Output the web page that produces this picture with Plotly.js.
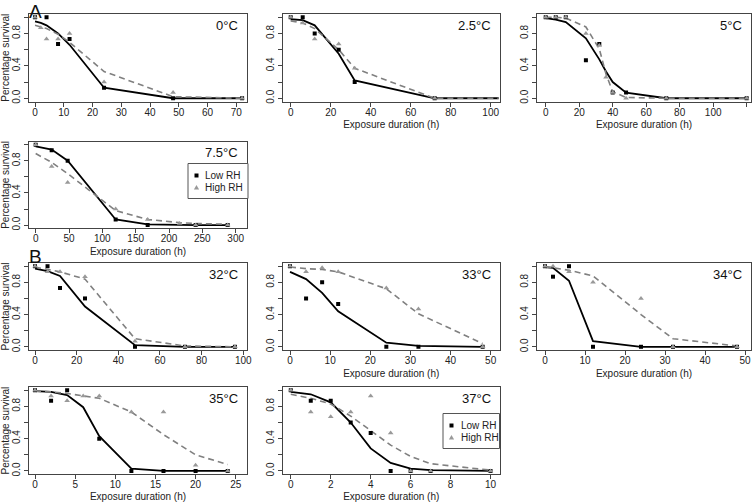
<!DOCTYPE html>
<html>
<head>
<meta charset="utf-8">
<script src="https://cdn.plot.ly/plotly-3.0.1.min.js"></script>
<style>html,body{margin:0;padding:0;background:#fff;}#chart{width:755px;height:502px;}</style>
</head>
<body>
<div id="chart"></div>
<script>
// ---------------- DATA ----------------
const panelLabels = ["0°C","2.5°C","5°C","7.5°C","32°C","33°C","34°C","35°C","37°C"];
const seriesNames = ["Low RH","High RH"];
const xTitle = "Exposure duration (h)";
const yTitle = "Percentage survival";
const yTickVals = [0,0.2,0.4,0.6,0.8,1.0];
const yTickText = ["0.0","","0.4","","0.8",""];

// 0°C
const t0Low = [0,4,8,12,24,48,72];
const obs0Low = [1.0,1.0,0.67,0.73,0.13,0.0,0.0];
const t0High = [0,2,4,8,12,24,48,72];
const obs0High = [1.0,0.87,0.73,0.73,0.8,0.2,0.07,0.0];
const t0Fit = [0,2,4,8,12,24,48,72];
const fit0Low = [0.95,0.93,0.9,0.8,0.66,0.13,0.0,0.0];
const fit0High = [0.9,0.88,0.86,0.79,0.69,0.33,0.02,0.0];

// 2.5°C
const t25Obs = [0,6,12,24,32,72];
const obs25Low = [1.0,1.0,0.8,0.6,0.2,0.0];
const obs25High = [1.0,0.93,0.73,0.67,0.37,0.0];
const t25Fit = [0,6,12,24,32,72,104];
const fit25Low = [0.975,0.965,0.9,0.55,0.22,0.0,0.0];
const fit25High = [0.955,0.93,0.86,0.6,0.37,0.0,0.0];

// 5°C
const t5Low = [0,6,12,24,32,40,48,72,120];
const obs5Low = [1.0,1.0,1.0,0.47,0.67,0.07,0.07,0.0,0.0];
const t5High = [0,6,12,24,32,36,40,48,72,120];
const obs5High = [1.0,1.0,1.0,0.8,0.65,0.26,0.07,0.0,0.0,0.0];
const t5Fit = [0,6,12,24,32,36,40,48,72,120];
const fit5Low = [0.99,0.97,0.94,0.74,0.48,0.33,0.2,0.07,0.0,0.0];
const fit5High = [1.0,1.0,0.99,0.88,0.61,0.3,0.08,0.01,0.0,0.0];

// 7.5°C
const t75Low = [0,24,48,120,168,240,288];
const obs75Low = [1.0,0.93,0.8,0.07,0.0,0.0,0.0];
const t75High = [0,24,48,120,168,216,240,288];
const obs75High = [1.0,0.73,0.53,0.2,0.07,0.02,0.0,0.0];
const t75Fit = [0,24,48,120,168,216,240,288];
const fit75Low = [0.98,0.94,0.8,0.07,0.01,0.0,0.0,0.0];
const fit75High = [0.89,0.78,0.64,0.18,0.07,0.03,0.02,0.01];

// 32°C
const t32Obs = [0,6,12,24,48,72,96];
const obs32Low = [1.0,1.0,0.73,0.6,0.0,0.0,0.0];
const obs32High = [1.0,0.93,0.93,0.87,0.07,0.0,0.0];
const fit32Low = [0.97,0.94,0.88,0.5,0.02,0.0,0.0];
const fit32High = [0.99,0.96,0.93,0.84,0.1,0.01,0.0];

// 33°C
const t33Obs = [0,4,8,12,24,32,48];
const obs33Low = [1.0,0.6,0.8,0.53,0.0,0.0,0.0];
const obs33High = [1.0,0.93,0.98,0.93,0.73,0.47,0.0];
const fit33Low = [0.93,0.84,0.67,0.44,0.05,0.01,0.0];
const fit33High = [0.99,0.97,0.96,0.93,0.72,0.41,0.04];

// 34°C
const t34Obs = [0,2,6,12,24,32,48];
const obs34Low = [1.0,0.87,1.0,0.0,0.0,0.0,0.0];
const obs34High = [1.0,1.0,0.93,0.8,0.6,0.0,0.0];
const fit34Low = [0.99,0.98,0.82,0.07,0.0,0.0,0.0];
const fit34High = [0.99,0.98,0.95,0.88,0.4,0.1,0.01];

// 35°C
const t35Low = [0,2,4,8,12,16,20,24];
const obs35Low = [1.0,0.87,1.0,0.4,0.0,0.0,0.0,0.0];
const t35High = [0,2,4,6,8,12,16,20,24];
const obs35High = [1.0,0.93,0.87,0.93,0.93,0.73,0.73,0.07,0.0];
const t35Fit = [0,2,4,6,8,12,16,20,24];
const fit35Low = [0.99,0.98,0.94,0.79,0.43,0.03,0.0,0.0,0.0];
const fit35High = [0.99,0.98,0.96,0.93,0.9,0.73,0.45,0.2,0.08];

// 37°C
const t37Obs = [0,1,2,3,4,5,6,7,10];
const obs37Low = [1.0,0.87,0.87,0.6,0.47,0.0,0.0,0.0,0.0];
const obs37High = [1.0,0.73,0.67,0.73,0.93,0.47,0.0,0.0,0.0];
const fit37Low = [0.98,0.95,0.85,0.6,0.28,0.1,0.03,0.01,0.0];
const fit37High = [0.95,0.9,0.83,0.68,0.5,0.32,0.18,0.09,0.01];

// ---------------- LAYOUT ----------------
const W = 755, H = 502;
const colX = [[29,247],[283,499.5],[537,751]];
const rowY = [[14,101.5],[141.5,228.3],[263,350],[387,474.2]];

const panels = [
  {row:0,col:0, xr:[-2.1,73.7],  dtick:10, tl:t0Low,  ol:obs0Low,  th:t0High,  oh:obs0High,  tf:t0Fit,  fl:fit0Low,  tfh:t0Fit,  fh:fit0High,  xt:false, yt:true},
  {row:0,col:1, xr:[-3.85,104.4],dtick:20, tl:t25Obs, ol:obs25Low, th:t25Obs, oh:obs25High, tf:t25Fit, fl:fit25Low, tfh:t25Fit, fh:fit25High, xt:true, yt:false},
  {row:0,col:2, xr:[-5.2,122.6], dtick:20, tl:t5Low,  ol:obs5Low,  th:t5High,  oh:obs5High,  tf:t5Fit,  fl:fit5Low,  tfh:t5Fit,  fh:fit5High,  xt:true, yt:false},
  {row:1,col:0, xr:[-10,317],    dtick:50, tl:t75Low, ol:obs75Low, th:t75High, oh:obs75High, tf:t75Fit, fl:fit75Low, tfh:t75Fit, fh:fit75High, xt:true, yt:true, legend:[188,163.5,248,198.5]},
  {row:2,col:0, xr:[-2.9,101.8], dtick:20, tl:t32Obs, ol:obs32Low, th:t32Obs, oh:obs32High, tf:t32Obs, fl:fit32Low, tfh:t32Obs, fh:fit32High, xt:false, yt:true},
  {row:2,col:1, xr:[-1.75,52.2], dtick:10, tl:t33Obs, ol:obs33Low, th:t33Obs, oh:obs33High, tf:t33Obs, fl:fit33Low, tfh:t33Obs, fh:fit33High, xt:true, yt:false},
  {row:2,col:2, xr:[-2,51.5],    dtick:10, tl:t34Obs, ol:obs34Low, th:t34Obs, oh:obs34High, tf:t34Obs, fl:fit34Low, tfh:t34Obs, fh:fit34High, xt:true, yt:false},
  {row:3,col:0, xr:[-0.75,26.4], dtick:5,  tl:t35Low, ol:obs35Low, th:t35High, oh:obs35High, tf:t35Fit, fl:fit35Low, tfh:t35Fit, fh:fit35High, xt:true, yt:true},
  {row:3,col:1, xr:[-0.39,10.45],dtick:2,  tl:t37Obs, ol:obs37Low, th:t37Obs, oh:obs37High, tf:t37Obs, fl:fit37Low, tfh:t37Obs, fh:fit37High, xt:true, yt:false, legend:[443,413.5,499.5,448.5]}
];

const FONT = "Liberation Sans, Arial, Helvetica, sans-serif";
const AX = "#444";
const TXT = "#222";
const LOWC = "#000", HIGHC = "#999";
const data = [];
const layout = {
  width: W, height: H,
  margin: {l:0, r:0, t:0, b:0},
  paper_bgcolor: "#fff", plot_bgcolor: "#fff",
  font: {family: FONT, size: 10, color: TXT},
  showlegend: false,
  annotations: [],
  shapes: []
};
const px = v => v / W;
const py = v => 1 - v / H;

panels.forEach((p, i) => {
  const n = i + 1;
  const xa = n === 1 ? "xaxis" : "xaxis" + n;
  const ya = n === 1 ? "yaxis" : "yaxis" + n;
  const xr = n === 1 ? "x" : "x" + n;
  const yr = n === 1 ? "y" : "y" + n;
  const [x0, x1] = colX[p.col];
  const [y0, y1] = rowY[p.row];
  layout[xa] = {
    domain: [px(x0), px(x1)], anchor: yr, range: p.xr,
    tickmode: "linear", tick0: 0, dtick: p.dtick,
    showline: true, mirror: true, linecolor: AX, linewidth: 1,
    ticks: "outside", ticklen: 4, tickwidth: 1, tickcolor: AX,
    showgrid: false, zeroline: false, ticklabelstandoff: -3,
    tickfont: {size: 10, color: TXT, family: FONT}
  };
  if (p.xt) layout[xa].title = {text: xTitle, font: {size: 10, color: TXT, family: FONT}, standoff: 4};
  layout[ya] = {
    domain: [py(y1), py(y0)], anchor: xr, range: [-0.04, 1.04],
    tickmode: "array", tickvals: yTickVals, ticktext: yTickText, tickangle: -90,
    showline: true, mirror: true, linecolor: AX, linewidth: 1,
    ticks: "outside", ticklen: 4, tickwidth: 1, tickcolor: AX,
    showgrid: false, zeroline: false,
    tickfont: {size: 10, color: TXT, family: FONT}
  };
  if (p.yt) layout[ya].title = {text: yTitle, font: {size: 10, color: TXT, family: FONT}, standoff: 2};

  data.push({x: p.tf, y: p.fl, xaxis: xr, yaxis: yr, mode: "lines", name: seriesNames[0] + " fit",
    line: {color: LOWC, width: 1.8}, hoverinfo: "skip"});
  data.push({x: p.tfh, y: p.fh, xaxis: xr, yaxis: yr, mode: "lines", name: seriesNames[1] + " fit",
    line: {color: "#808080", width: 1.6, dash: "6px,4px"}, hoverinfo: "skip"});
  data.push({x: p.tl, y: p.ol, xaxis: xr, yaxis: yr, mode: "markers", name: seriesNames[0],
    marker: {symbol: "square", size: 4, color: LOWC, line: {width: 0}}});
  data.push({x: p.th, y: p.oh, xaxis: xr, yaxis: yr, mode: "markers", name: seriesNames[1],
    marker: {symbol: "triangle-up", size: 5, color: HIGHC, line: {width: 0}}});

  layout.annotations.push({
    xref: "paper", yref: "paper", x: px(x1 - 7), y: py(y0 + 2),
    xanchor: "right", yanchor: "top", showarrow: false, text: panelLabels[i],
    font: {size: 13, color: "#111", family: FONT}
  });

  // legend box (R-style)
  if (p.legend) {
    const [lx0, ly0, lx1, ly1] = p.legend;
    layout.shapes.push({type: "rect", xref: "paper", yref: "paper",
      x0: px(lx0), x1: px(lx1), y0: py(ly1), y1: py(ly0),
      line: {color: "#555", width: 1}, fillcolor: "#fff", layer: "above"});
    const mx = lx0 + 8.5;
    const e1 = ly0 + 12, e2 = ly0 + 24;
    layout.shapes.push({type: "rect", xref: "paper", yref: "paper",
      x0: px(mx - 2), x1: px(mx + 2), y0: py(e1 + 2), y1: py(e1 - 2),
      line: {width: 0}, fillcolor: LOWC, layer: "above"});
    layout.shapes.push({type: "path", xref: "paper", yref: "paper",
      path: `M ${px(mx - 2.6)} ${py(e2 + 2)} L ${px(mx + 2.6)} ${py(e2 + 2)} L ${px(mx)} ${py(e2 - 2.6)} Z`,
      line: {width: 0}, fillcolor: HIGHC, layer: "above"});
    layout.annotations.push({xref: "paper", yref: "paper", x: px(mx + 7), y: py(e1),
      xanchor: "left", yanchor: "middle", showarrow: false, text: seriesNames[0],
      font: {size: 10, color: TXT, family: FONT}});
    layout.annotations.push({xref: "paper", yref: "paper", x: px(mx + 7), y: py(e2),
      xanchor: "left", yanchor: "middle", showarrow: false, text: seriesNames[1],
      font: {size: 10, color: TXT, family: FONT}});
  }
});

layout.annotations.push({xref:"paper", yref:"paper", x: px(28), y: 1, xanchor:"left", yanchor:"top",
  borderpad: 0, showarrow:false, text:"A", font:{size:19, color:"#111", family: FONT}});
layout.annotations.push({xref:"paper", yref:"paper", x: px(28), y: py(268), xanchor:"left", yanchor:"bottom",
  borderpad: 0, showarrow:false, text:"B", font:{size:19, color:"#111", family: FONT}});

Plotly.newPlot("chart", data, layout, {staticPlot: true, displayModeBar: false});
</script>
</body>
</html>
